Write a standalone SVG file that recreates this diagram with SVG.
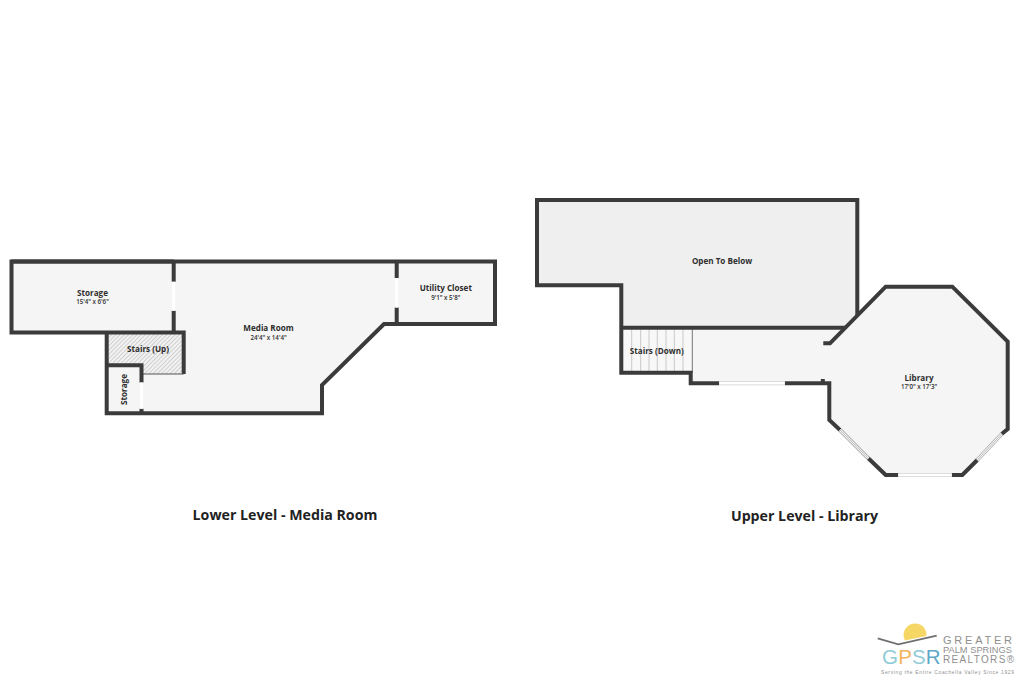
<svg xmlns="http://www.w3.org/2000/svg" width="1024" height="683" viewBox="0 0 1024 683">
<style>
.room{fill:#f5f5f5;stroke:none}
.wall{fill:none;stroke:#3b3b3b;stroke-width:4;stroke-linejoin:miter;stroke-linecap:butt}
.thin{fill:none;stroke:#bdbdbd;stroke-width:.8}
.win{stroke:#9a9a9a;stroke-width:4;fill:none}
.winw{stroke:#f4f4f4;stroke-width:2.6;fill:none}
.winc{stroke:#b0b0b0;stroke-width:.8;fill:none}
text{font-family:"Open Sans","Liberation Sans",sans-serif;fill:#2e2e2e;text-anchor:middle}
.n{font-size:8.1px;font-weight:700}
.d{font-size:6.2px;font-weight:600}
.t{font-size:14.2px;font-weight:700;fill:#222}
.lg{font-family:"Liberation Sans",sans-serif;fill:#8f8f8f;text-anchor:start}
.gp{font-family:"Liberation Sans",sans-serif;font-size:20.500px;text-anchor:start}
</style>
<defs>
<pattern id="hatch" width="3" height="3" patternUnits="userSpaceOnUse" patternTransform="rotate(-45)">
<rect width="3" height="3" fill="#f2f2f2"/><line x1="0" y1="0" x2="3" y2="0" stroke="#a5a5a5" stroke-width=".9"/>
</pattern>
</defs>
<rect width="1024" height="683" fill="#fff"/>
<g id="lower-level">
<path class="room" d="M11.500 261.500H495V324H384L322 385V413H107V332.500H11.500Z"/>
<path d="M107 332.500H183.700V374H141.500V365.300H107Z" fill="url(#hatch)"/>
<path class="wall" d="M173.700 261.500H11.500V332.500H183.700V374"/>
<path d="M141.500 374H183.700" fill="none" stroke="#555" stroke-width="1"/>
<path class="wall" d="M173.700 332.500V310.700M173.700 281.700V261.500"/>
<path class="wall" d="M106.700 332.500V413.300H322V385L384 324H495V261.500H11.500"/>
<path class="wall" d="M106.700 365.300H141.500V382.500M141.500 408.700V413.300"/>
<path class="wall" d="M396.700 261.500V278M396.700 307.500V324"/>
<path d="M173.700 281.700V310.700M141.500 382.500V408.700M396.700 278V307.500" stroke="#fff" stroke-width="3" fill="none"/>
<text class="n" x="92.500" y="296">Storage</text>
<text class="d" x="92.500" y="304">15'4" x 6'6"</text>
<text class="n" x="148" y="352">Stairs (Up)</text>
<text class="n" transform="translate(126.500 389.500) rotate(-90)">Storage</text>
<text class="n" x="268.500" y="331">Media Room</text>
<text class="d" x="268.500" y="340">24'4" x 14'4"</text>
<text class="n" x="445.800" y="291">Utility Closet</text>
<text class="d" x="445.800" y="299.500">9'1" x 5'8"</text>
</g>
<g id="upper-level">
<path d="M537 200H857.300V315L845 327.700H621.300V285.300H537Z" fill="#efefef"/>
<path class="room" d="M692 327.700H845L885.700 286.700H952.300L1007.700 341.700V429L962.300 475H885.700L829.300 420V381H692Z"/>
<path d="M621.300 327.700H692.300V372.700H621.300Z" fill="#f8f8f8"/>
<path class="thin" d="M631.700 329V371.500M640.700 329V371.500M649 329V371.500M657.300 329V371.500M666 329V371.500M674.300 329V371.500M683 329V371.500"/>
<path d="M692.300 328V373" stroke="#777" stroke-width="1" fill="none"/>
<path class="wall" d="M857.300 315V200H537V285.300H621.300V372.700H690.700V383.300H719.300"/>
<path class="wall" d="M621.300 327.700H845"/>
<path class="wall" d="M784.700 383.300H829.300V420L840 430"/>
<path class="wall" d="M822.800 379V383"/>
<path class="wall" d="M868.300 458.300L885.700 475H898.300M951.700 475H962.300L977.300 460M1001.700 434L1007.700 429V341.700L952.300 286.700H885.700L830 343.300H823.300"/>
<path d="M719.300 383.300H784.700M898.300 475H951.700" stroke="#d0d0d0" stroke-width="4" fill="none"/>
<path d="M719.300 383.300H784.700M898.300 475H951.700" stroke="#fff" stroke-width="2.600" fill="none"/>
<path class="win" d="M840 430L868.300 458.300M977.300 460L1001.700 434"/>
<path class="winw" d="M840 430L868.300 458.300M977.300 460L1001.700 434"/>
<path class="winc" d="M840 430L868.300 458.300M977.300 460L1001.700 434"/>
<text class="n" x="722" y="263.500">Open To Below</text>
<text class="n" x="656.800" y="353.500">Stairs (Down)</text>
<text class="n" x="919" y="380.500">Library</text>
<text class="d" x="919" y="389">17'0" x 17'3"</text>
</g>
<g id="titles">
<text class="t" x="285" y="520">Lower Level - Media Room</text>
<text class="t" x="804.500" y="521">Upper Level - Library</text>
</g>
<g id="logo">
<path d="M905 640.500A11.500 11.500 0 1 1 926.500 636Z" fill="#f6d766"/>
<path d="M877.700 638.300L898.300 644.300L936.700 635.700" fill="none" stroke="#6f6f6f" stroke-width="1.800"/>
<text class="gp" y="663.500" x="882" fill="#8fcbd8" style="fill:#8fcbd8">G</text>
<text class="gp" y="663.500" x="898.200" style="fill:#f2b45a">P</text>
<text class="gp" y="663.500" x="912" style="fill:#8fcbd8">S</text>
<text class="gp" y="663.500" x="925.800" style="fill:#5fa8c8">R</text>
<text class="lg" x="943" y="644" font-size="11" textLength="69" lengthAdjust="spacing">GREATER</text>
<text class="lg" x="943" y="652.800" font-size="8.300" textLength="69" lengthAdjust="spacingAndGlyphs">PALM SPRINGS</text>
<text class="lg" x="943" y="663" font-size="10" textLength="71" lengthAdjust="spacing">REALTORS®</text>
<text class="lg" x="881" y="673.500" font-size="4.900" fill="#a8a8a8" textLength="133" lengthAdjust="spacing">Serving the Entire Coachella Valley Since 1929</text>
</g>
</svg>
